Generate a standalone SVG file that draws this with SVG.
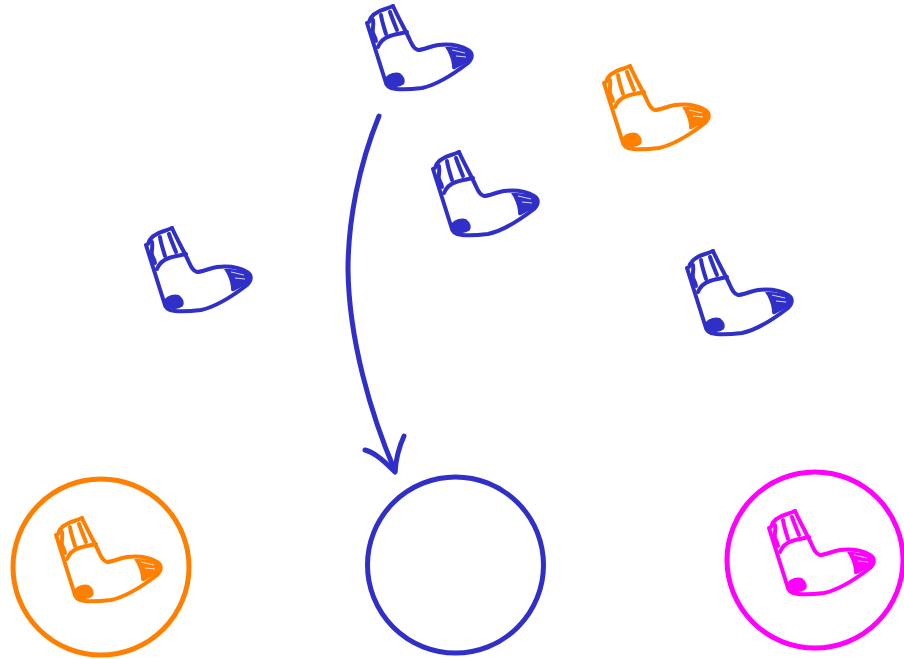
<svg xmlns="http://www.w3.org/2000/svg" width="904" height="659" viewBox="0 0 904 659">
<style>
.line{fill:none;stroke:currentColor;stroke-linecap:round;stroke-linejoin:round}
.sock .line{stroke-width:4}
.ring{fill:none;stroke:currentColor;stroke-width:5}
.blue{color:#3030c8}
.orange{color:#ff8000}
.magenta{color:#ff00ff}
</style>
<defs>
<g id="sock" class="sock">
<path class="line" d="M367 23L385 80C386 86 389 89 396 89C405 90 414 89 422 88C436 85 455 73 468 63C473 58 473 53 468 50C460 45 448 44 438 45C430 46 424 50 418 50C413 49 411 42 408 36C403 26 397 15 393 6"/>
<path class="line" d="M369 22C371 15 378 11 385 9C388 8 391 7 393 6"/>
<path class="line" d="M378 47C380 42 384 38 390 36C396 34 402 33 407 32"/>
<path class="line" stroke-width="3" d="M373 20C374 26 372 30 373 33C374 36 376 38 376 41M381 15C382 22 384 27 386 34M390 12C392 18 395 25 397 30"/>
<path d="M386 78C389 74 396 72 400 74C404 77 405 81 403 84C399 87 393 87 389 85C386 83 385 81 386 78Z" fill="currentColor" stroke="currentColor" stroke-width="1.5"/>
<path d="M445 47C452 47 462 47 469 52C472 56 470 60 466 63L455 69C452 70 452 68 452 65C451 58 449 53 445 47Z" fill="currentColor"/>
<path d="M452 50L465 53M456 56L466 57" fill="none" stroke="#fff" stroke-width="0.8"/>
</g>
</defs>
<g id="connectors" class="blue">
<path class="line" stroke-width="5" d="M379 116C359 165 348 220 348 270C349 340 371 415 395 471"/>
<path class="line" stroke-width="5" d="M365 450C376 453 386 463 395 472C396 458 399 447 404 436"/>
</g>
<g id="sock-top" class="blue"><use href="#sock"/></g>
<g id="sock-center" class="blue"><use href="#sock" x="66" y="146"/></g>
<g id="sock-orange" class="orange"><use href="#sock" x="237" y="60"/></g>
<g id="sock-left" class="blue"><use href="#sock" x="-221" y="222"/></g>
<g id="sock-right" class="blue"><use href="#sock" x="320" y="245"/></g>
<g id="bin-orange" class="orange"><circle class="ring" cx="101" cy="567" r="88"/><use href="#sock" x="-311" y="512"/></g>
<g id="bin-blue" class="blue"><circle class="ring" cx="455.500" cy="565" r="88"/></g>
<g id="bin-magenta" class="magenta"><circle class="ring" cx="815" cy="560" r="88"/><use href="#sock" x="402" y="505"/></g>
</svg>
